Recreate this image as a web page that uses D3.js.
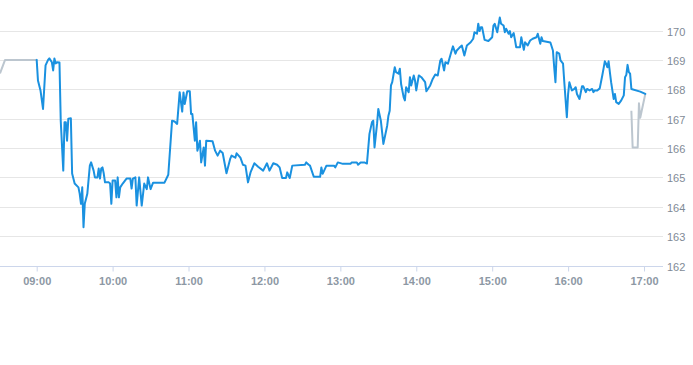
<!DOCTYPE html>
<html>
<head>
<meta charset="utf-8">
<script src="https://cdn.jsdelivr.net/npm/d3@7"></script>
<style>
  body { margin: 0; background: #fff; }
  svg { display: block; font-family: "Liberation Sans", Arial, sans-serif; }
</style>
</head>
<body>
<div id="chart"></div>
<script>
// price levels on the right axis and the hour labels below
const priceTicks = [162, 163, 164, 165, 166, 167, 168, 169, 170];
const timeTicks = ['09:00', '10:00', '11:00', '12:00', '13:00', '14:00', '15:00', '16:00', '17:00'];
const timeStart = '08:31';
const timeEnd = '17:15';

// grey pre-open and after-close segments
const preOpen = [['08:31', 168.54], ['08:35', 169.00], ['09:00', 169.00]];
const afterClose = [['16:50', 167.27], ['16:51', 166.02], ['16:55', 166.02], ['16:56', 167.52], ['16:57', 167.03], ['17:01', 167.84]];

// regular session
const session = [
  ['09:00', 169.00], ['09:01', 168.30], ['09:03', 167.96], ['09:05', 167.33], ['09:07', 168.81], ['09:09', 169.00],
  ['09:10', 169.05], ['09:12', 168.92], ['09:13', 168.64], ['09:14', 169.05], ['09:15', 168.88], ['09:16', 168.92],
  ['09:18', 168.91], ['09:19', 166.93], ['09:21', 165.23], ['09:22', 166.88], ['09:23', 166.88], ['09:24', 166.25],
  ['09:25', 167.00], ['09:27', 167.01], ['09:28', 165.13], ['09:30', 164.79], ['09:33', 164.66], ['09:34', 164.44],
  ['09:35', 164.10], ['09:36', 164.66], ['09:37', 163.30], ['09:38', 164.10], ['09:40', 164.44], ['09:42', 165.40],
  ['09:43', 165.51], ['09:45', 165.23], ['09:46', 165.00], ['09:48', 165.00], ['09:49', 165.30], ['09:50', 164.96],
  ['09:51', 165.30], ['09:52', 165.34], ['09:53', 165.13], ['09:54', 164.83], ['09:57', 164.83], ['09:58', 164.79],
  ['09:59', 164.10], ['10:00', 164.89], ['10:02', 164.89], ['10:03', 164.32], ['10:04', 165.00], ['10:05', 164.32],
  ['10:06', 164.66], ['10:08', 164.79], ['10:11', 164.96], ['10:14', 164.96], ['10:15', 164.62], ['10:16', 164.96],
  ['10:18', 165.00], ['10:19', 164.04], ['10:21', 165.00], ['10:23', 164.04], ['10:25', 164.79], ['10:27', 164.60],
  ['10:28', 165.00], ['10:30', 164.60], ['10:32', 164.82], ['10:41', 164.82], ['10:44', 165.09], ['10:47', 166.93],
  ['10:49', 166.90], ['10:51', 166.82], ['10:53', 167.90], ['10:55', 167.24], ['10:56', 167.89], ['10:57', 167.50],
  ['10:59', 167.93], ['11:01', 167.93], ['11:02', 167.16], ['11:03', 167.16], ['11:05', 166.25], ['11:06', 166.88],
  ['11:07', 165.91], ['11:09', 166.25], ['11:10', 165.51], ['11:12', 166.02], ['11:13', 165.40], ['11:14', 166.25],
  ['11:19', 166.23], ['11:21', 165.91], ['11:23', 165.74], ['11:25', 165.91], ['11:27', 165.83], ['11:30', 165.14],
  ['11:33', 165.64], ['11:34', 165.74], ['11:37', 165.67], ['11:38', 165.82], ['11:41', 165.67], ['11:43', 165.43],
  ['11:45', 165.40], ['11:47', 164.83], ['11:49', 165.17], ['11:52', 165.48], ['11:55', 165.36], ['11:59', 165.23],
  ['12:02', 165.48], ['12:04', 165.23], ['12:07', 165.48], ['12:10', 165.43], ['12:12', 165.34], ['12:14', 164.98],
  ['12:17', 164.98], ['12:18', 165.17], ['12:20', 164.98], ['12:22', 165.40], ['12:32', 165.43], ['12:33', 165.51],
  ['12:35', 165.43], ['12:36', 165.40], ['12:39', 165.02], ['12:44', 165.02], ['12:45', 165.34], ['12:46', 165.12],
  ['12:49', 165.40], ['12:55', 165.40], ['12:56', 165.34], ['12:58', 165.51], ['13:02', 165.46], ['13:08', 165.46],
  ['13:09', 165.51], ['13:13', 165.51], ['13:14', 165.43], ['13:16', 165.51], ['13:19', 165.51], ['13:21', 165.47],
  ['13:23', 166.48], ['13:25', 166.88], ['13:26', 166.93], ['13:27', 166.02], ['13:29', 166.82], ['13:30', 167.33],
  ['13:32', 166.93], ['13:34', 166.14], ['13:37', 166.76], ['13:38', 167.10], ['13:39', 167.27], ['13:40', 168.13],
  ['13:41', 168.24], ['13:43', 168.75], ['13:44', 168.58], ['13:46', 168.53], ['13:47', 168.70], ['13:48', 168.18],
  ['13:50', 167.73], ['13:51', 167.62], ['13:52', 168.07], ['13:54', 167.90], ['13:55', 168.41], ['13:56', 168.13],
  ['13:58', 168.47], ['13:59', 168.30], ['14:00', 167.96], ['14:02', 168.47], ['14:04', 168.41], ['14:07', 168.24],
  ['14:08', 167.93], ['14:11', 168.13], ['14:13', 168.35], ['14:15', 168.50], ['14:17', 168.47], ['14:19', 168.98],
  ['14:20', 169.04], ['14:22', 168.64], ['14:23', 168.92], ['14:25', 168.87], ['14:28', 169.32], ['14:29', 169.46],
  ['14:31', 169.21], ['14:32', 169.32], ['14:34', 169.41], ['14:36', 169.49], ['14:37', 169.32], ['14:38', 169.15],
  ['14:40', 169.49], ['14:43', 169.60], ['14:45', 169.72], ['14:46', 169.94], ['14:48', 169.89], ['14:49', 170.23],
  ['14:50', 169.98], ['14:51', 170.11], ['14:52', 170.11], ['14:54', 169.68], ['14:57', 169.64], ['15:00', 169.77],
  ['15:01', 170.17], ['15:02', 170.23], ['15:04', 169.94], ['15:06', 170.44], ['15:07', 170.23], ['15:09', 170.17],
  ['15:10', 169.94], ['15:11', 170.06], ['15:13', 169.89], ['15:14', 169.98], ['15:15', 169.77], ['15:17', 169.91],
  ['15:18', 169.68], ['15:19', 169.43], ['15:22', 169.43], ['15:23', 169.77], ['15:25', 169.34], ['15:26', 169.60],
  ['15:28', 169.49], ['15:30', 169.66], ['15:32', 169.72], ['15:35', 169.77], ['15:36', 169.89], ['15:38', 169.55],
  ['15:39', 169.77], ['15:40', 169.64], ['15:46', 169.59], ['15:48', 169.32], ['15:49', 168.75], ['15:50', 168.24],
  ['15:51', 169.26], ['15:53', 169.21], ['15:54', 168.98], ['15:56', 168.87], ['15:57', 168.24], ['15:59', 167.05],
  ['16:00', 167.84], ['16:01', 168.24], ['16:03', 167.96], ['16:05', 168.01], ['16:06', 168.07], ['16:07', 167.84],
  ['16:09', 167.67], ['16:11', 168.10], ['16:12', 168.10], ['16:14', 167.90], ['16:15', 168.01], ['16:17', 167.96],
  ['16:19', 168.01], ['16:20', 167.90], ['16:21', 167.96], ['16:23', 167.96], ['16:25', 168.03], ['16:27', 168.47],
  ['16:28', 168.70], ['16:29', 168.95], ['16:30', 168.87], ['16:31', 168.75], ['16:32', 168.95], ['16:33', 168.58],
  ['16:34', 168.24], ['16:36', 167.67], ['16:37', 167.84], ['16:38', 167.56], ['16:40', 167.50], ['16:42', 167.62],
  ['16:44', 167.79], ['16:45', 168.41], ['16:46', 168.49], ['16:47', 168.83], ['16:48', 168.58], ['16:49', 168.53],
  ['16:50', 168.01], ['16:57', 167.92], ['17:01', 167.84]
];

const width = 693;
const height = 365;
const plotRight = 663;
const parseTime = d3.timeParse('%H:%M');

const svg = d3.select('#chart').append('svg')
  .attr('width', width)
  .attr('height', height);

const x = d3.scaleTime()
  .domain([parseTime(timeStart), parseTime(timeEnd)])
  .range([0, plotRight]);

const y = d3.scaleLinear()
  .domain([162, 170])
  .range([265.5, 30.5]);

// horizontal grid
svg.append('g')
  .selectAll('line')
  .data(priceTicks.slice(1))
  .join('line')
  .attr('x1', 0)
  .attr('x2', plotRight)
  .attr('y1', d => Math.round(y(d)) + 0.5)
  .attr('y2', d => Math.round(y(d)) + 0.5)
  .attr('stroke', '#e6e6e6');

// right side price labels
svg.append('g')
  .selectAll('text')
  .data(priceTicks)
  .join('text')
  .attr('x', 667)
  .attr('y', d => Math.round(y(d)) + 5)
  .attr('font-size', 11)
  .attr('fill', '#7f8a96')
  .text(d => d);

// time axis
const xAxis = svg.append('g')
  .attr('transform', `translate(0,${Math.round(y(162)) + 0.5})`)
  .call(d3.axisBottom(x)
    .tickValues(timeTicks.map(parseTime))
    .tickFormat(d3.timeFormat('%H:%M'))
    .tickSize(5)
    .tickSizeOuter(0)
    .tickPadding(6));

xAxis.select('.domain').attr('stroke', '#ccd6eb').attr('d', `M0,0H${plotRight}`);
xAxis.selectAll('.tick line').attr('stroke', '#ccd6eb');
xAxis.selectAll('.tick text')
  .attr('font-size', 11)
  .attr('font-family', '"Liberation Sans", Arial, sans-serif')
  .attr('font-weight', 'bold')
  .attr('fill', '#8d98a4');

const line = d3.line()
  .x(d => x(parseTime(d[0])))
  .y(d => y(d[1]));

[preOpen, afterClose].forEach(seg => {
  svg.append('path')
    .datum(seg)
    .attr('fill', 'none')
    .attr('stroke', '#bcc6cf')
    .attr('stroke-width', 2)
    .attr('stroke-linejoin', 'round')
    .attr('d', line);
});

svg.append('path')
  .datum(session)
  .attr('fill', 'none')
  .attr('stroke', '#1a91e0')
  .attr('stroke-width', 2)
  .attr('stroke-linejoin', 'round')
  .attr('stroke-linecap', 'round')
  .attr('d', line);
</script>
</body>
</html>
